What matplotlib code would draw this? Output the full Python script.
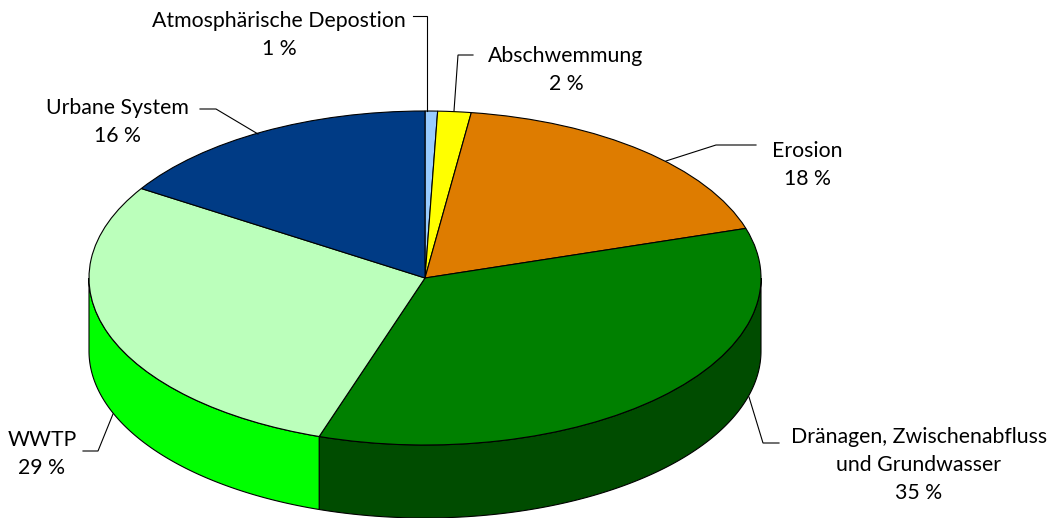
import numpy as np
import matplotlib
matplotlib.use("Agg")
import matplotlib.pyplot as plt

categories = ["Atmosphärische Depostion", "Abschwemmung", "Erosion",
              "Dränagen, Zwischenabfluss\nund Grundwasser", "WWTP", "Urbane System"]
percent_labels = ["1 %", "2 %", "18 %", "35 %", "29 %", "16 %"]
values = [0.6, 1.6, 18.0, 34.9, 28.9, 16.0]
top_colors = ["#99CCFF", "#FFFF00", "#DE7C00", "#008000", "#BBFFBB", "#003B85"]
side_colors = ["#6699CC", "#AAAA00", "#945300", "#004C00", "#00FF00", "#002759"]

W, H = 1053, 518
CX, CY, RX, RY, DEPTH = 425, 278, 336, 167, 73

plt.rcParams['font.family'] = ['Lato', 'DejaVu Sans']
fig = plt.figure(figsize=(W / 100, H / 100), dpi=100, facecolor="white")

ax = fig.add_axes([0, 0, 1, 1])
ax.pie(values, colors=top_colors, startangle=90, counterclock=False, normalize=True,
       wedgeprops=dict(edgecolor="black", linewidth=0.8, zorder=3))
ax.set_aspect("auto")
ax.set_xlim(-CX / RX, (W - CX) / RX)
ax.set_ylim(-(H - CY) / RY, CY / RY)
ax.axis("off")

# Side wall of the cylinder, following the slices' angles
edges = np.concatenate([[0], np.cumsum(values)]) / np.sum(values) * 2 * np.pi
d = DEPTH / RY
for i in range(len(values)):
    a0, a1 = max(edges[i], np.pi / 2), min(edges[i + 1], 3 * np.pi / 2)
    if a1 <= a0:
        continue
    t = np.linspace(a0, a1, 200)
    xs, ys = np.sin(t), np.cos(t)
    ax.fill(np.r_[xs, xs[::-1]], np.r_[ys, ys[::-1] - d], facecolor=side_colors[i],
            edgecolor="black", linewidth=0.8, zorder=1)

# Overlay in pixel coordinates for labels and leader lines
ov = fig.add_axes([0, 0, 1, 1], facecolor="none")
ov.set_xlim(0, W)
ov.set_ylim(H, 0)
ov.axis("off")

label_pos = [(279, 35), (566, 70), (807, 165), (919, 465), (42, 454), (117, 122)]
leaders = [
    [(413, 16), (427, 16), (427, 111)],
    [(473, 55), (458, 55), (454, 111)],
    [(756, 145), (716, 145), (666, 161)],
    [(779, 443), (763, 443), (749, 397)],
    [(83, 451), (98, 451), (113, 414)],
    [(200, 109), (216, 109), (258, 134)],
]
for name, pct, (x, y) in zip(categories, percent_labels, label_pos):
    ov.text(x, y, name + "\n" + pct, ha="center", va="center", fontsize=15.3,
            linespacing=1.52, color="black")
for pts in leaders:
    px, py = zip(*pts)
    ov.plot(px, py, color="black", lw=0.8, solid_joinstyle="miter")

fig.savefig("out.png", dpi=100)
